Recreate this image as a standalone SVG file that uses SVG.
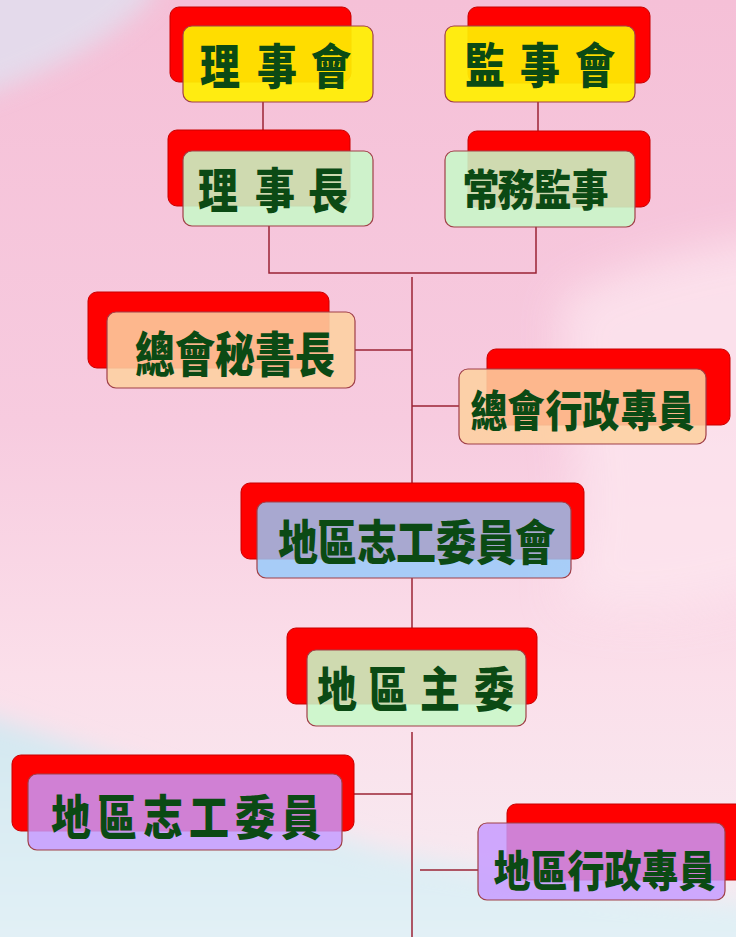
<svg xmlns="http://www.w3.org/2000/svg" width="736" height="937" viewBox="0 0 736 937">
  <defs>
    <linearGradient id="bg" x1="0" y1="0" x2="0" y2="1">
      <stop offset="0" stop-color="#f5c0d7"/>
      <stop offset="0.45" stop-color="#f7cbdf"/>
      <stop offset="0.72" stop-color="#fbdfea"/>
      <stop offset="1" stop-color="#f6ecf2"/>
    </linearGradient>
    <linearGradient id="water" x1="0" y1="0" x2="0" y2="1">
      <stop offset="0" stop-color="#d2e7f0"/>
      <stop offset="1" stop-color="#e6f3f7"/>
    </linearGradient>
    <filter id="blur" x="-30%" y="-30%" width="160%" height="160%">
      <feGaussianBlur stdDeviation="22"/>
    </filter>
    <filter id="blur2" x="-30%" y="-30%" width="160%" height="160%">
      <feGaussianBlur stdDeviation="12"/>
    </filter>
  </defs>
  <style>
    .shadow { fill: #ff0000; stroke: #c80000; stroke-width: 1; }
    .box { stroke: #a04048; stroke-width: 1.2; }
    .yellow { fill: #fff000; fill-opacity: 0.92; }
    .green { fill: #c8f8c8; fill-opacity: 0.88; }
    .peach { fill: #fdd0a0; fill-opacity: 0.88; }
    .blue { fill: #96cafa; fill-opacity: 0.83; }
    .purple { fill: #c79aff; fill-opacity: 0.83; }
    .lbl { font-family: "Noto Sans CJK TC", "Noto Sans CJK SC", sans-serif; font-weight: 900; font-size: 40px; fill: #0b4a14; text-anchor: middle; dominant-baseline: central; }
    .conn line, .conn polyline { stroke: #9b2335; stroke-width: 1.5; fill: none; }
  </style>

  <!-- background -->
  <rect x="0" y="0" width="736" height="937" fill="url(#bg)"/>
  <path d="M-60,-60 L170,-60 L150,0 C110,40 60,70 -60,110 Z" fill="#dfe3f2" filter="url(#blur2)" opacity="0.75"/>
  <path d="M560,300 C630,260 700,250 800,230 L800,580 C680,620 620,620 560,600 C600,500 560,420 560,300 Z" fill="#fde6ef" filter="url(#blur)" opacity="0.8"/>
  <path d="M-60,700 C120,760 260,810 380,850 C520,880 640,900 800,905 L800,1000 L-60,1000 Z" fill="url(#water)" filter="url(#blur2)"/>

  <!-- connectors -->
  <g id="connectors" class="conn">
    <line x1="263" y1="102" x2="263" y2="131"/>
    <line x1="538" y1="102" x2="538" y2="131"/>
    <polyline points="269,226 269,273 536,273 536,226"/>
    <line x1="412" y1="277" x2="412" y2="484"/>
    <line x1="355" y1="350" x2="412" y2="350"/>
    <line x1="412" y1="406" x2="459" y2="406"/>
    <line x1="412" y1="578" x2="412" y2="628"/>
    <line x1="412" y1="732" x2="412" y2="937"/>
    <line x1="354" y1="794" x2="412" y2="794"/>
    <line x1="420" y1="870" x2="478" y2="870"/>
  </g>

  <g id="node-lishihui">
    <rect class="shadow" x="170" y="7" width="181" height="75" rx="9"/>
    <rect class="box yellow" x="183" y="26" width="190" height="76" rx="9"/>
    <g transform="translate(0,64) scale(1,1.18)"><text class="lbl" x="220 277 331" y="0">理事會</text></g>
  </g>

  <g id="node-jianshihui">
    <rect class="shadow" x="468" y="7" width="182" height="76" rx="9"/>
    <rect class="box yellow" x="445" y="26" width="190" height="76" rx="9"/>
    <g transform="translate(0,63) scale(1,1.18)"><text class="lbl" x="485 540 595" y="0">監事會</text></g>
  </g>

  <g id="node-lishizhang">
    <rect class="shadow" x="168" y="130" width="182" height="76" rx="9"/>
    <rect class="box green" x="183" y="151" width="190" height="75" rx="9"/>
    <g transform="translate(0,188) scale(1,1.18)"><text class="lbl" x="218 275 328" y="0">理事長</text></g>
  </g>

  <g id="node-changwujianshi">
    <rect class="shadow" x="468" y="131" width="182" height="76" rx="9"/>
    <rect class="box green" x="445" y="151" width="190" height="76" rx="9"/>
    <g transform="translate(0,187) scale(1,1.18)"><text class="lbl" style="font-size:37px" x="481 516 553 590" y="0">常務監事</text></g>
  </g>

  <g id="node-mishuzhang">
    <rect class="shadow" x="88" y="292" width="241" height="76" rx="9"/>
    <rect class="box peach" x="107" y="312" width="248" height="76" rx="9"/>
    <g transform="translate(0,352) scale(1,1.18)"><text class="lbl" x="155 195 235 275 315" y="0">總會秘書長</text></g>
  </g>

  <g id="node-xingzheng">
    <rect class="shadow" x="487" y="349" width="243" height="76" rx="9"/>
    <rect class="box peach" x="459" y="369" width="247" height="75" rx="9"/>
    <g transform="translate(0,408) scale(1,1.18)"><text class="lbl" style="font-size:37px" x="489 526 564 601 639 676" y="0">總會行政專員</text></g>
  </g>

  <g id="node-zhigonghui">
    <rect class="shadow" x="241" y="483" width="343" height="76" rx="9"/>
    <rect class="box blue" x="257" y="502" width="314" height="76" rx="9"/>
    <g transform="translate(0,540) scale(1,1.18)"><text class="lbl" x="298 337 377 416 456 496 535" y="0">地區志工委員會</text></g>
  </g>

  <g id="node-zhuwei">
    <rect class="shadow" x="287" y="628" width="250" height="76" rx="9"/>
    <rect class="box green" x="307" y="650" width="219" height="76" rx="9"/>
    <g transform="translate(0,687) scale(1,1.18)"><text class="lbl" x="337 388 440 494" y="0">地區主委</text></g>
  </g>

  <g id="node-zhigong">
    <rect class="shadow" x="12" y="755" width="342" height="76" rx="9"/>
    <rect class="box purple" x="28" y="774" width="314" height="76" rx="9"/>
    <g transform="translate(0,815) scale(1,1.18)"><text class="lbl" x="71 117 163 209 255 301" y="0">地區志工委員</text></g>
  </g>

  <g id="node-quxingzheng">
    <rect class="shadow" x="507" y="804" width="245" height="76" rx="9"/>
    <rect class="box purple" x="478" y="823" width="247" height="77" rx="9"/>
    <g transform="translate(0,868) scale(1,1.18)"><text class="lbl" style="font-size:37px" x="512 549 586 623 660 697" y="0">地區行政專員</text></g>
  </g>
</svg>
